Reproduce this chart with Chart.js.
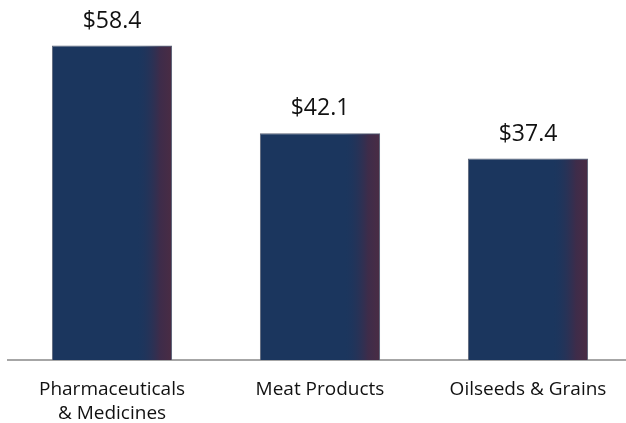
<!DOCTYPE html>
<html>
<head>
<meta charset="utf-8">
<script src="https://cdn.jsdelivr.net/npm/chart.js@4"></script>
<style>
  html, body { margin: 0; padding: 0; background: #fff; overflow: hidden; }
  #wrap { width: 632px; height: 423px; }
</style>
</head>
<body>
<div id="wrap"><canvas id="chart" width="632" height="423"></canvas></div>
<script>
const categories = [['Pharmaceuticals', '& Medicines'], 'Meat Products', 'Oilseeds & Grains'];
const values = [58.4, 42.1, 37.4];
const valueLabels = ['$58.4', '$42.1', '$37.4'];

const FONT = "'Open Sans', sans-serif";

// shade right edge of each bar + value labels above
const barDecor = {
  id: 'barDecor',
  afterDatasetsDraw(chart) {
    const ctx = chart.ctx;
    const meta = chart.getDatasetMeta(0);
    meta.data.forEach((bar, i) => {
      const left = bar.x - bar.width / 2;
      const right = bar.x + bar.width / 2;
      const h = bar.base - bar.y;
      const g = ctx.createLinearGradient(left, 0, right, 0);
      g.addColorStop(0, 'rgba(27,54,94,0)');
      g.addColorStop(0.7, 'rgba(27,54,94,0)');
      g.addColorStop(0.9, 'rgba(62,44,74,1)');
      g.addColorStop(1, 'rgba(74,44,68,1)');
      ctx.save();
      ctx.fillStyle = g;
      ctx.fillRect(left + 1, bar.y + 1, bar.width - 2, h - 1);
      ctx.fillStyle = '#111';
      ctx.font = '23px ' + FONT;
      ctx.textAlign = 'center';
      ctx.textBaseline = 'alphabetic';
      ctx.fillText(valueLabels[i], bar.x, bar.y - 18);
      ctx.restore();
    });
  }
};

new Chart(document.getElementById('chart').getContext('2d'), {
  type: 'bar',
  data: {
    labels: categories,
    datasets: [{
      data: values,
      backgroundColor: '#1b365e',
      borderColor: '#5c6478',
      borderWidth: 1,
      barPercentage: 0.578,
      categoryPercentage: 1
    }]
  },
  options: {
    responsive: false,
    animation: false,
    layout: { padding: { top: 10, left: 8, right: 0, bottom: 0 } },
    plugins: { legend: { display: false }, tooltip: { enabled: false } },
    scales: {
      y: { display: false, min: 0, max: 65 },
      x: {
        afterFit(scale) { scale.height = 63; },
        grid: { display: false },
        border: { display: true, color: '#a6a6a6', width: 2 },
        ticks: {
          color: '#111',
          padding: 10,
          font: { family: FONT, size: 19, lineHeight: 1.26 },
          maxRotation: 0,
          autoSkip: false
        }
      }
    }
  },
  plugins: [barDecor]
});
</script>
</body>
</html>
